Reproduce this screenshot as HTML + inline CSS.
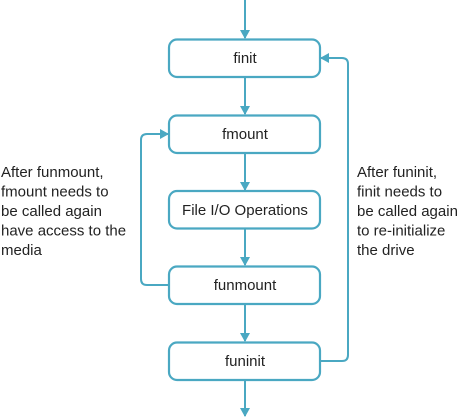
<!DOCTYPE html>
<html><head><style>
html,body{margin:0;padding:0;background:#fff;}
svg{display:block;}
text{font-family:"Liberation Sans",sans-serif;fill:#222;}
</style></head><body>
<svg width="468" height="418" viewBox="0 0 468 418">
<defs><marker id="a" markerWidth="10" markerHeight="10" refX="8" refY="5" orient="auto" markerUnits="userSpaceOnUse"><path d="M0,0 L9,5 L0,10 z" fill="#4aa8c2"/></marker></defs>
<g fill="none" stroke="#4aa8c2" stroke-width="2.2">
<rect x="169" y="39.5" width="151" height="37.5" rx="8"/>
<rect x="169" y="115.5" width="151" height="37.5" rx="8"/>
<rect x="169" y="191" width="151" height="37.5" rx="8"/>
<rect x="169" y="266.5" width="151" height="37.5" rx="8"/>
<rect x="169" y="342.5" width="151" height="37.5" rx="8"/>
</g>
<g stroke="#4aa8c2" stroke-width="2" fill="none" marker-end="url(#a)">
<line x1="245" y1="0" x2="245" y2="38"/>
<line x1="245" y1="77" x2="245" y2="114"/>
<line x1="245" y1="153" x2="245" y2="190"/>
<line x1="245" y1="229" x2="245" y2="265"/>
<line x1="245" y1="304" x2="245" y2="341"/>
<line x1="245" y1="380" x2="245" y2="416"/>
<path d="M169,285 H147 Q141,285 141,279 V140 Q141,134 147,134 H168"/>
<path d="M320,361 H342 Q348,361 348,355 V64 Q348,58 342,58 H321"/>
</g>
<g font-size="15" text-anchor="middle">
<text x="245" y="63">finit</text>
<text x="245" y="139">fmount</text>
<text x="245" y="215">File I/O Operations</text>
<text x="245" y="290">funmount</text>
<text x="245" y="366">funinit</text>
</g>
<g font-size="15">
<text x="1" y="177">After funmount,</text>
<text x="1" y="196.5">fmount needs to</text>
<text x="1" y="216">be called again</text>
<text x="1" y="235.5">have access to the</text>
<text x="1" y="255">media</text>
<text x="357" y="177">After funinit,</text>
<text x="357" y="196.5">finit needs to</text>
<text x="357" y="216">be called again</text>
<text x="357" y="235.5">to re-initialize</text>
<text x="357" y="255">the drive</text>
</g>
</svg>
</body></html>
